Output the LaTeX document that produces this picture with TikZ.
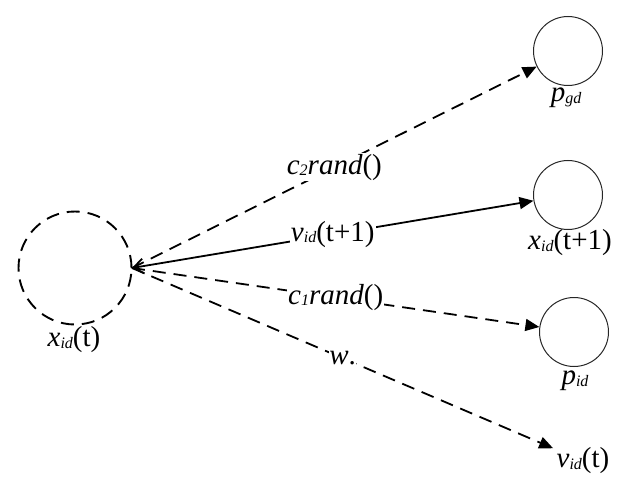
\documentclass[tikz,border=0pt]{standalone}
\usepackage{fontspec}
\setmainfont{Liberation Serif}
\newfontfamily\tnr{Liberation Serif}
\usetikzlibrary{arrows.meta}
\newcommand{\sbs}[1]{\raisebox{-1.5pt}{\fontsize{16}{16}\selectfont\tnr\itshape #1}}
\newcommand{\vr}[2]{{\itshape #1}\sbs{#2}}
\begin{document}
\begin{tikzpicture}[x=1pt,y=-1pt,
  every node/.style={font=\tnr\fontsize{29}{31}\selectfont},
  smallc/.style={circle,draw=black!85,line width=1pt,minimum size=69pt,inner sep=0pt},
  bigc/.style={circle,draw,line width=1.9pt,dash pattern=on 13pt off 8pt,minimum size=113pt,inner sep=0pt},
  dline/.style={line width=1.8pt,dash pattern=on 13pt off 8pt,-{Triangle[length=14pt,width=12pt]}},
  sline/.style={line width=1.8pt,{Straight Barb[length=10pt,width=15pt]}-{Triangle[length=14pt,width=12pt]}},
  lbl/.style={fill=white,inner sep=1pt,pos=0.5}]
\useasboundingbox (0,0) rectangle (626,497);
\node[bigc] (big) at (75,268) {};
\coordinate (s) at (132,268);
\node[smallc] (pgd) at (568,51) {};
\node[smallc] (xn) at (568,195) {};
\node[smallc] (pid) at (574,332) {};
\node (vt) at (583,461) {\vr{v}{id}(t)};
\node (lxt) at (74,340) {\vr{x}{id}(t)};
\node (lpgd) at (566,98) {\vr{p}{gd}};
\node (lxn) at (570,243) {\vr{x}{id}(t+1)};
\node (lpid) at (575,381) {\vr{p}{id}};
\draw[dline] (s) -- node[lbl] {\vr{c}{2}{\itshape rand}()} (pgd);
\draw[sline] (s) -- node[lbl] {\vr{v}{id}(t+1)} (xn);
\draw[dline] (s) -- node[lbl] {\vr{c}{1}{\itshape rand}()} (pid);
\draw[dline] (s) -- node[lbl,inner sep=0pt] {\vr{w}{}.} (vt);
\end{tikzpicture}
\end{document}
